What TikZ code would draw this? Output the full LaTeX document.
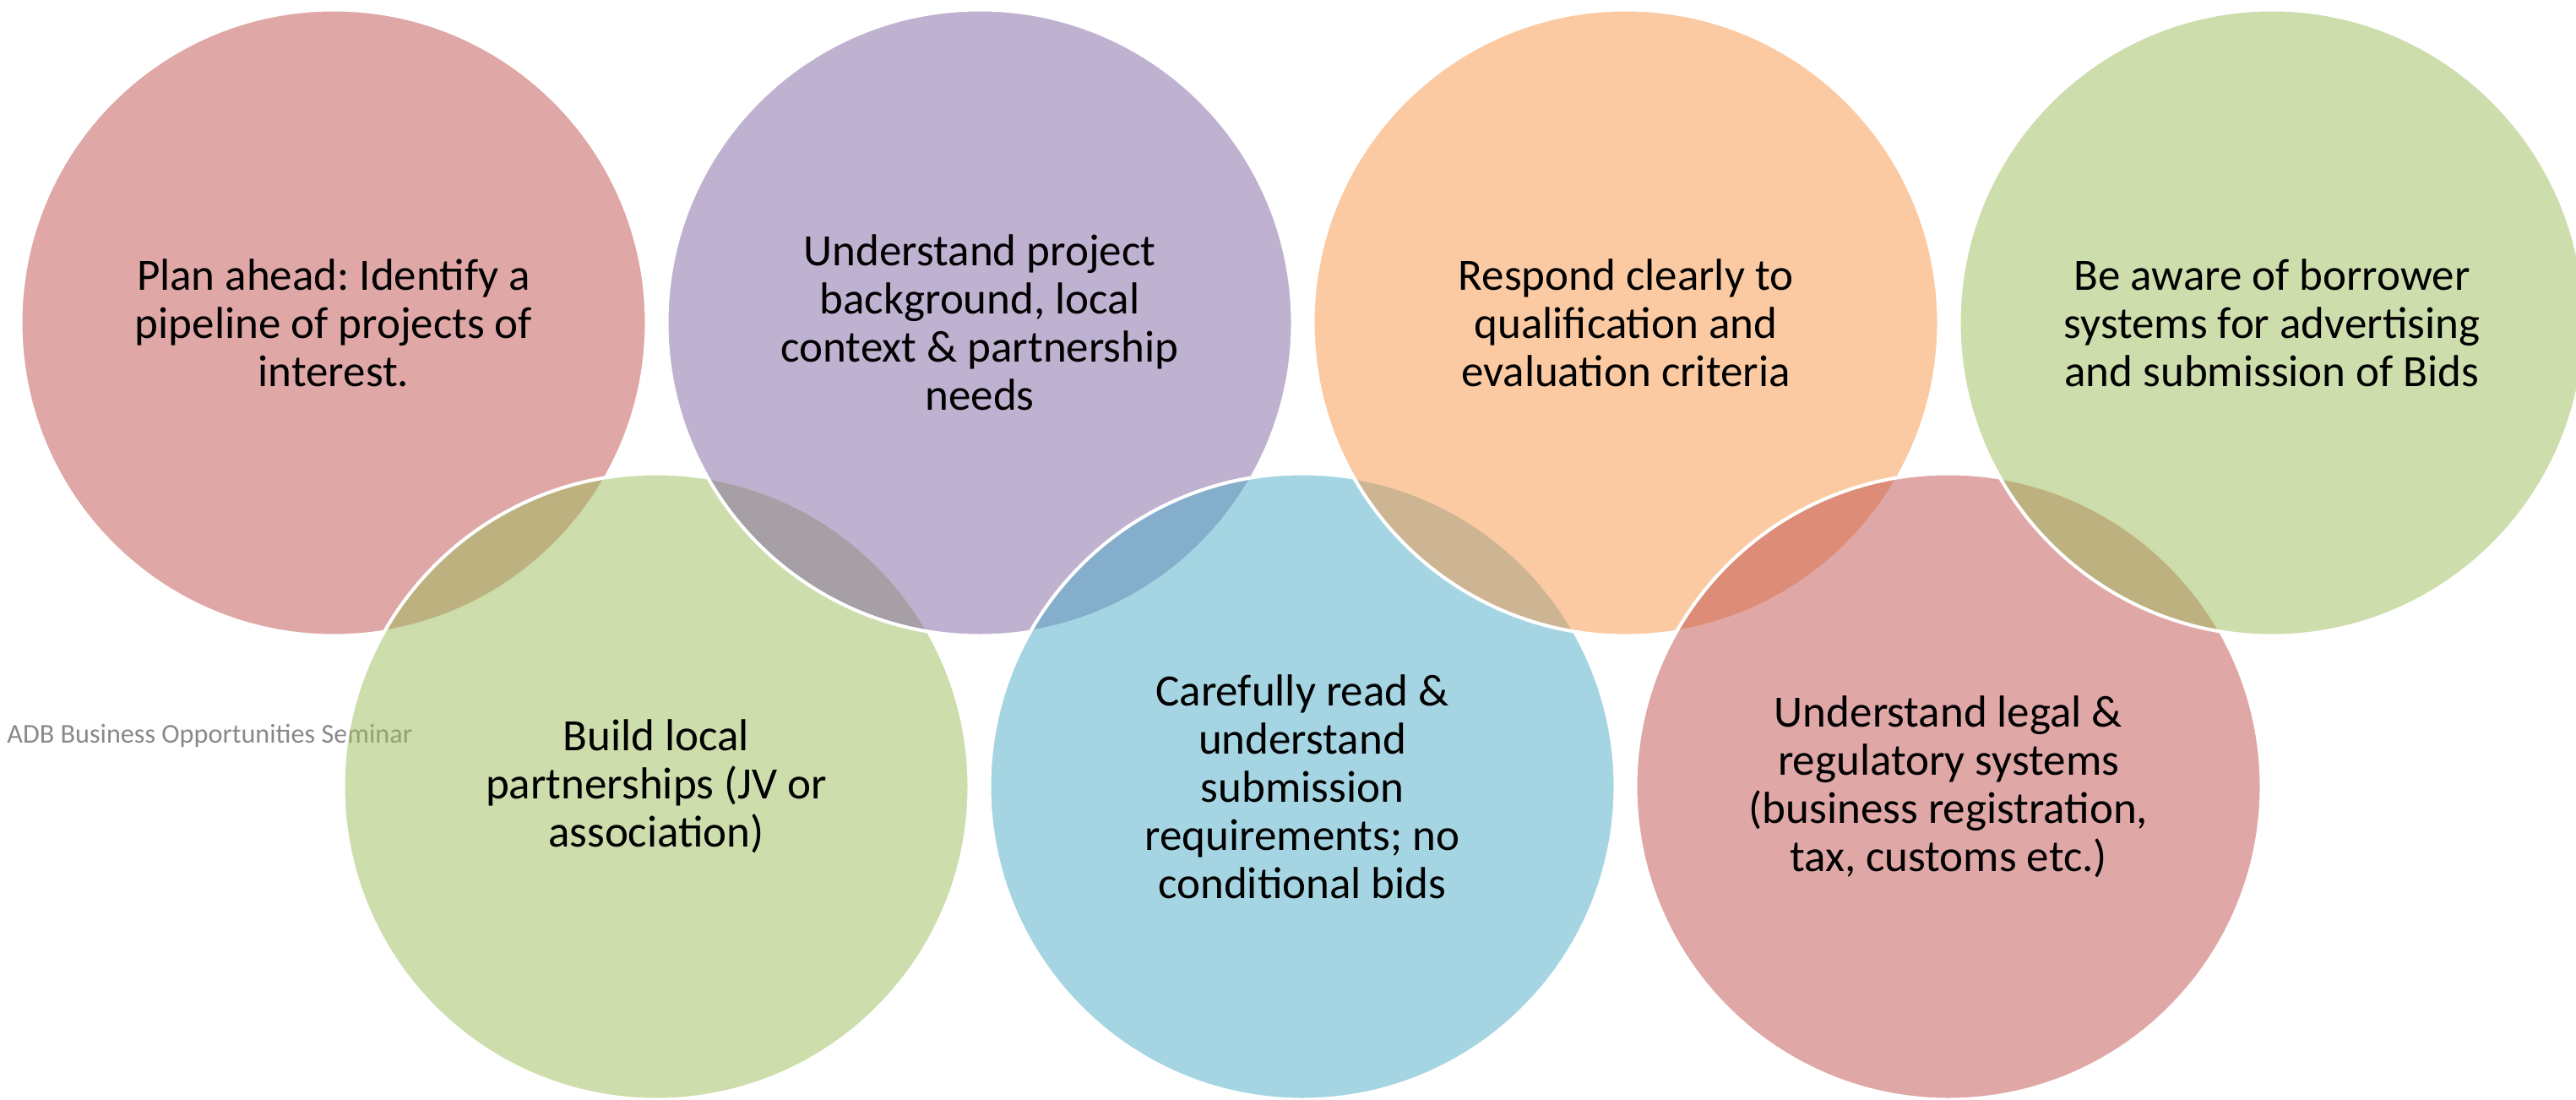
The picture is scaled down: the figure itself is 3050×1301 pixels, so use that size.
\documentclass[tikz,border=0pt]{standalone}
\usepackage{fontspec}
\setmainfont{Carlito}
\frenchspacing
\definecolor{ored}{HTML}{C0504D}
\definecolor{opurple}{HTML}{8064A2}
\definecolor{oorange}{HTML}{F79646}
\definecolor{ogreen}{HTML}{9BBB59}
\definecolor{oaqua}{HTML}{4BACC6}
\definecolor{footgray}{HTML}{898989}
\begin{document}
\begin{tikzpicture}[x=0.5pt,y=-0.5pt,
  bubble/.style={circle, minimum size=370.5pt, inner sep=0pt, outer sep=0pt,
    fill opacity=0.5, text opacity=1, align=center, text=black,
    draw=white, draw opacity=1, line width=2pt,
    font=\fontsize{26.5}{28.5}\selectfont},
  footer/.style={inner sep=0pt, text=footgray, font=\fontsize{16.1}{19}\selectfont}]
\useasboundingbox (0,0) rectangle (3050,1301);
\node[footer, anchor=base west] (foot) at (8,879) {ADB Business Opportunities Seminar};
% circles drawn in zig-zag order (each one lies over the previous)
\node[bubble, fill=ored] (c1) at (395,382) {Plan ahead: Identify a\\pipeline of projects of\\interest.};
\node[bubble, fill=ogreen] (c5) at (777,931) {Build local\\partnerships (JV or\\association)};
\node[bubble, fill=opurple] (c2) at (1160,382) {Understand project\\background, local\\context \& partnership\\needs};
\node[bubble, fill=oaqua] (c6) at (1542,931) {Carefully read \&\\understand\\submission\\requirements; no\\conditional bids};
\node[bubble, fill=oorange] (c3) at (1925,382) {Respond clearly to\\qualification and\\evaluation criteria};
\node[bubble, fill=ored] (c7) at (2307,931) {Understand legal \&\\regulatory systems\\(business registration,\\tax, customs etc.)};
\node[bubble, fill=ogreen] (c4) at (2690,382) {Be aware of borrower\\systems for advertising\\and submission of Bids};
\end{tikzpicture}
\end{document}
